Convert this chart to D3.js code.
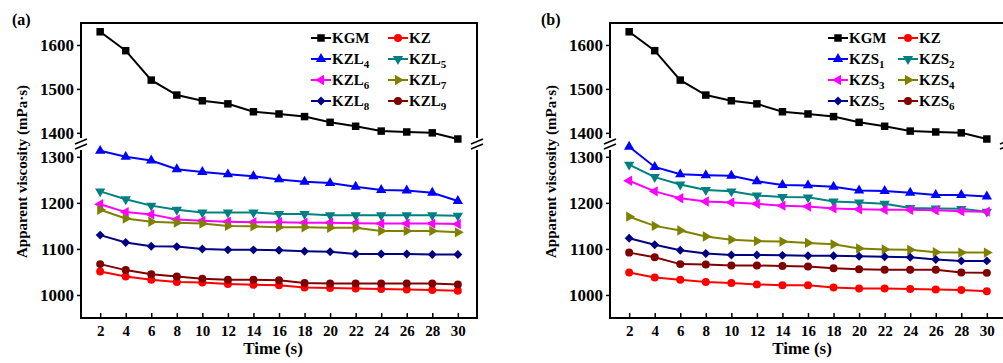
<!DOCTYPE html>
<html>
<head>
<meta charset="utf-8">
<script src="https://cdn.jsdelivr.net/npm/d3@7"></script>
<style>
  body { margin: 0; background: #fff; }
  svg text { font-family: 'Liberation Serif', 'Times New Roman', 'DejaVu Serif', serif; font-weight: bold; }
</style>
</head>
<body>
<svg id="chart" width="1003" height="363"></svg>
<script>
// time points (s)
const times = [2, 4, 6, 8, 10, 12, 14, 16, 18, 20, 22, 24, 26, 28, 30];

// apparent viscosity (mPa·s)
const kgm  = [1630, 1587, 1520, 1486, 1473, 1466, 1448, 1443, 1437, 1424, 1415, 1404, 1402, 1400, 1386];

// panel (a)
const kzA  = [1051, 1040, 1033, 1028, 1027, 1024, 1022, 1021, 1016, 1015, 1014, 1013, 1012, 1011, 1009];
const kzl4 = [1313, 1300, 1292, 1273, 1267, 1262, 1258, 1251, 1246, 1243, 1235, 1228, 1227, 1222, 1204];
const kzl5 = [1225, 1208, 1194, 1185, 1179, 1179, 1179, 1176, 1176, 1173, 1173, 1173, 1173, 1173, 1172];
const kzl6 = [1197, 1180, 1175, 1164, 1161, 1159, 1158, 1158, 1157, 1157, 1156, 1155, 1155, 1155, 1154];
const kzl7 = [1185, 1166, 1159, 1157, 1155, 1150, 1149, 1147, 1147, 1146, 1146, 1139, 1139, 1139, 1136];
const kzl8 = [1130, 1114, 1106, 1105, 1100, 1098, 1098, 1097, 1095, 1094, 1089, 1089, 1089, 1088, 1088];
const kzl9 = [1067, 1054, 1045, 1040, 1035, 1033, 1033, 1032, 1026, 1025, 1025, 1025, 1025, 1025, 1023];

// panel (b)
const kzB  = [1049, 1038, 1033, 1028, 1026, 1023, 1021, 1021, 1016, 1014, 1014, 1013, 1012, 1011, 1008];
const kzs1 = [1322, 1278, 1262, 1260, 1259, 1247, 1239, 1238, 1235, 1227, 1226, 1222, 1217, 1217, 1214];
const kzs2 = [1283, 1256, 1240, 1228, 1225, 1216, 1213, 1212, 1203, 1201, 1198, 1189, 1188, 1187, 1181];
const kzs3 = [1248, 1225, 1210, 1203, 1201, 1198, 1194, 1192, 1188, 1186, 1185, 1185, 1184, 1182, 1181];
const kzs4 = [1170, 1150, 1140, 1127, 1120, 1117, 1116, 1113, 1110, 1101, 1099, 1098, 1093, 1092, 1092];
const kzs5 = [1123, 1109, 1097, 1090, 1087, 1087, 1086, 1085, 1085, 1084, 1083, 1082, 1077, 1074, 1074];
const kzs6 = [1092, 1082, 1067, 1066, 1064, 1064, 1063, 1062, 1058, 1056, 1055, 1055, 1055, 1049, 1048];

const upperTicks = [1400, 1500, 1600];
const lowerTicks = [1000, 1100, 1200, 1300];

const colors = ['#000000', '#ff0000', '#0000ff', '#008080', '#ff00ff', '#808000', '#000080', '#800000'];
const shapes = ['square', 'circle', 'up', 'down', 'left', 'right', 'diamond', 'circle'];

const panelA = {
    tag: '(a)', dx: 0,
    names: [['KGM', ''], ['KZ', ''], ['KZL', '4'], ['KZL', '5'], ['KZL', '6'], ['KZL', '7'], ['KZL', '8'], ['KZL', '9']],
    values: [kgm, kzA, kzl4, kzl5, kzl6, kzl7, kzl8, kzl9],
    legendX: [321, 398]
};
const panelB = {
    tag: '(b)', dx: 529,
    names: [['KGM', ''], ['KZ', ''], ['KZS', '1'], ['KZS', '2'], ['KZS', '3'], ['KZS', '4'], ['KZS', '5'], ['KZS', '6']],
    values: [kgm, kzB, kzs1, kzs2, kzs3, kzs4, kzs5, kzs6],
    legendX: [309, 379]
};

const svg = d3.select('#chart');

const plotLeft = 81, plotRight = 477, plotTop = 23, plotBottom = 318;
const gapTop = 139, gapBottom = 149;

function markerPath(shape) {
    if (shape === 'square') return { d: d3.symbol(d3.symbolSquare, 56)(), rot: 0 };
    if (shape === 'circle') return { d: d3.symbol(d3.symbolCircle, 50)(), rot: 0 };
    if (shape === 'diamond') return { d: d3.symbol(d3.symbolSquare, 40)(), rot: 45 };
    const rot = { up: 0, down: 180, left: -90, right: 90 }[shape];
    return { d: d3.symbol(d3.symbolTriangle, 46)(), rot: rot };
}

function drawPanel(p) {
    const g = svg.append('g').attr('transform', `translate(${p.dx},0)`);

    const x = d3.scaleLinear().domain([0.5, 31.5]).range([plotLeft, plotRight]);
    const yUp = d3.scaleLinear().domain([1386, 1650]).range([gapTop, plotTop]);
    const yLo = d3.scaleLinear().domain([950, 1317]).range([plotBottom, gapBottom]);

    // frame with broken left/right sides
    const frame = g.append('g').attr('stroke', '#000').attr('stroke-width', 2).attr('fill', 'none');
    frame.append('path').attr('d', `M${plotLeft},${gapTop - 1}V${plotTop}H${plotRight}V${gapTop - 1}`);
    frame.append('path').attr('d', `M${plotLeft},${gapBottom + 1}V${plotBottom}H${plotRight}V${gapBottom + 1}`);
    [plotLeft, plotRight].forEach(xx => {
        [-2.5, 2.5].forEach(off => {
            const cy = (gapTop + gapBottom) / 2 + off;
            frame.append('line')
                .attr('x1', xx - 6).attr('y1', cy + 2.5)
                .attr('x2', xx + 6).attr('y2', cy - 2.5)
                .attr('stroke-width', 1.5);
        });
    });

    // y axes (outward ticks)
    const fmt = d3.format('d');
    const yAxisUp = d3.axisLeft(yUp).tickValues(upperTicks).tickFormat(fmt).tickSize(4).tickSizeOuter(0).tickPadding(3);
    const yAxisLo = d3.axisLeft(yLo).tickValues(lowerTicks).tickFormat(fmt).tickSize(4).tickSizeOuter(0).tickPadding(3);
    [yAxisUp, yAxisLo].forEach(ax => {
        const a = g.append('g').attr('transform', `translate(${plotLeft},0)`).call(ax);
        a.attr('font-family', null).attr('font-size', null);
        a.select('.domain').remove();
        a.selectAll('line').attr('stroke-width', 1.5);
        a.selectAll('text').attr('font-size', 17).attr('fill', '#000');
    });

    // x axis (inward ticks)
    const xAxis = d3.axisBottom(x).tickValues(times).tickFormat(fmt).tickSize(-5).tickSizeOuter(0).tickPadding(7);
    const xa = g.append('g').attr('transform', `translate(0,${plotBottom})`).call(xAxis);
    xa.attr('font-family', null).attr('font-size', null);
    xa.select('.domain').remove();
    xa.selectAll('line').attr('stroke-width', 1.5);
    xa.selectAll('text').attr('font-size', 15).attr('fill', '#000');

    // titles
    g.append('text')
        .attr('x', (plotLeft + plotRight) / 2 - 6).attr('y', 354)
        .attr('text-anchor', 'middle').attr('font-size', 17)
        .text('Time (s)');
    g.append('text')
        .attr('transform', `translate(27,${(plotTop + plotBottom) / 2 + 1}) rotate(-90)`)
        .attr('text-anchor', 'middle').attr('font-size', 15)
        .text('Apparent viscosity (mPa·s)');
    g.append('text')
        .attr('x', 12).attr('y', 25).attr('font-size', 16)
        .text(p.tag);

    // series
    p.values.forEach((vals, i) => {
        const y = i === 0 ? yUp : yLo;
        const pts = times.map((t, j) => [x(t), y(vals[j])]);
        g.append('path')
            .attr('d', d3.line()(pts))
            .attr('fill', 'none')
            .attr('stroke', colors[i])
            .attr('stroke-width', 2);
        const m = markerPath(shapes[i]);
        g.append('g').selectAll('path')
            .data(pts)
            .join('path')
            .attr('d', m.d)
            .attr('transform', d => `translate(${d[0]},${d[1]}) rotate(${m.rot})`)
            .attr('fill', colors[i]);
    });

    // legend
    const rowY = [38, 59, 80, 101];
    p.names.forEach((nm, i) => {
        const lx = p.legendX[i % 2];
        const ly = rowY[Math.floor(i / 2)];
        const lg = g.append('g').attr('transform', `translate(${lx},${ly})`);
        lg.append('line').attr('x1', -10).attr('x2', 10).attr('stroke', colors[i]).attr('stroke-width', 2);
        const m = markerPath(shapes[i]);
        lg.append('path').attr('d', m.d).attr('transform', `rotate(${m.rot})`).attr('fill', colors[i]);
        const t = lg.append('text').attr('x', 11).attr('y', 5).attr('font-size', 15);
        t.append('tspan').text(nm[0]);
        if (nm[1]) t.append('tspan').attr('dy', 4).attr('font-size', 11).text(nm[1]);
    });
}

drawPanel(panelA);
drawPanel(panelB);
</script>
</body>
</html>
